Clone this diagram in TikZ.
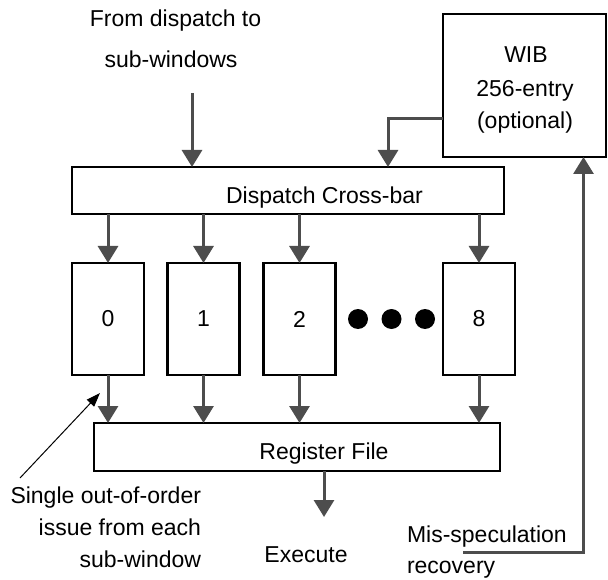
\documentclass[tikz,border=0pt]{standalone}
\usepackage{fontspec}
\setmainfont{Liberation Sans}
\usetikzlibrary{arrows.meta}
\definecolor{arrgray}{RGB}{77,77,77}
\tikzset{
  box/.style={draw=black, line width=2.4pt, fill=white, inner sep=0pt, outer sep=0pt},
  win/.style={box, minimum width=72pt, minimum height=112pt},
  txt/.style={inner sep=0pt, outer sep=0pt, anchor=base},
  flow/.style={draw=arrgray, line width=3pt, -{Triangle[width=20pt,length=17pt]}},
  note/.style={draw=black, line width=1pt, -{Triangle[width=10pt,length=14pt]}},
  dotc/.style={circle, fill=black, minimum size=20pt, inner sep=0pt}
}
\begin{document}
\begin{tikzpicture}[x=1pt,y=-1pt,font=\fontsize{23}{33}\selectfont]
\useasboundingbox (0,0) rectangle (608,580);
% boxes
\node[box, minimum width=432pt, minimum height=47pt] (xbar) at (288,190.5) {};
\node[txt] (xbarlbl) at (324.5,204) {Dispatch Cross-bar};
\node[box, minimum width=163pt, minimum height=143pt] (wib) at (524.5,85.5) {};
\node[txt] (wib1) at (526,63) {WIB};
\node[txt] (wib2) at (525,97) {256-entry};
\node[txt] (wib3) at (525,129) {(optional)};
\node[win] (w0) at (108,319) {0};
\node[win] (w1) at (203.5,319) {1};
\node[win] (w2) at (299.5,319) {2};
\node[win] (w8) at (479,319) {8};
\node[dotc] (d1) at (358,319) {};
\node[dotc] (d2) at (391.5,319) {};
\node[dotc] (d3) at (425,319) {};
\node[box, minimum width=406pt, minimum height=48pt] (rf) at (297,447) {};
\node[txt] (rflbl) at (324,459) {Register File};
% texts
\node[txt] (from1) at (175.5,27) {From dispatch to};
\node[txt] (from2) at (171,68) {sub-windows};
\node[txt] (exec) at (306,562) {Execute};
\node[txt, anchor=base east] (s1) at (201,503) {Single out-of-order};
\node[txt, anchor=base east] (s2) at (201,535) {issue from each};
\node[txt, anchor=base east] (s3) at (201,567) {sub-window};
\node[txt, anchor=base west] (m1) at (407,542) {Mis-speculation};
\node[txt, anchor=base west] (m2) at (407,573) {recovery};
% coordinates
\coordinate (inTop) at (192,93);
\coordinate (execEnd) at (324,517);
\coordinate (misStart) at (463,552);
\coordinate (misCorner) at (583.5,552);
\coordinate (wibCorner) at (388,119);
\coordinate (noteStart) at (20,478);
\coordinate (noteEnd) at (100,393);
% arrows
\draw[flow] (inTop) -- (inTop |- xbar.north);
\draw[flow] (wib.west |- wibCorner) -- (wibCorner) -- (wibCorner |- xbar.north);
\foreach \w in {w0,w1,w2,w8} {
  \draw[flow] (xbar.south -| \w.north) -- (\w.north);
  \draw[flow] (\w.south) -- (rf.north -| \w.south);
}
\draw[flow] (rf.south -| execEnd) -- (execEnd);
\draw[flow, rounded corners=0pt] (misStart) -- (misCorner) -- (misCorner |- wib.south);
\draw[note] (noteStart) -- (noteEnd);
\end{tikzpicture}
\end{document}
